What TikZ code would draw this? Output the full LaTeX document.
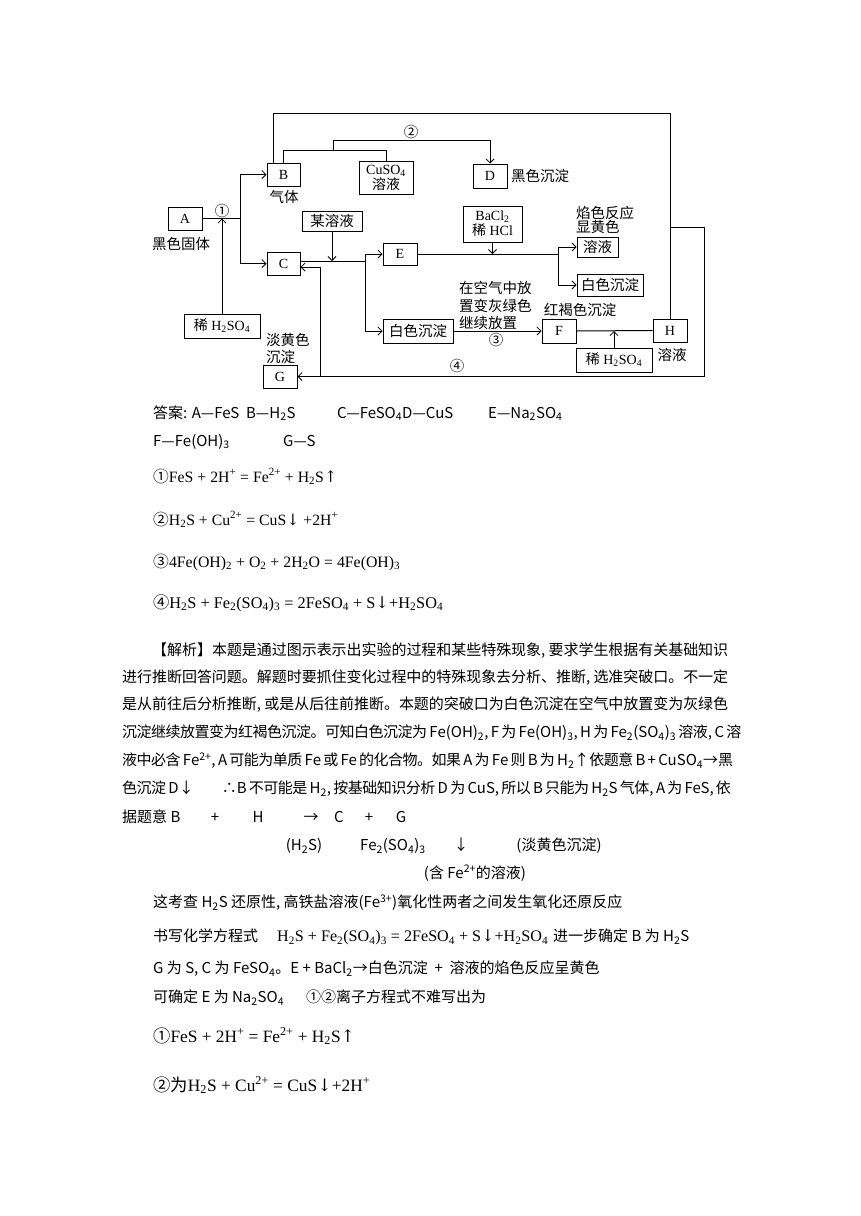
\documentclass[tikz,border=0pt]{standalone}
\usepackage{fontspec}
\usepackage{graphicx}
\usetikzlibrary{arrows.meta,calc}
\setmainfont{Noto Sans CJK SC}
\newfontfamily\cjk{Noto Sans CJK SC}
\newfontfamily\tms{Liberation Serif}
\newfontfamily\dvs{DejaVu Serif}
\XeTeXinterchartokenstate=1
\newXeTeXintercharclass\cjkcls
\newcount\mycnt
\mycnt="4E00
\loop
  \XeTeXcharclass\mycnt=\cjkcls
  \advance\mycnt by 1
\ifnum\mycnt<"A000 \repeat
\mycnt="3000
\loop
  \XeTeXcharclass\mycnt=\cjkcls
  \advance\mycnt by 1
\ifnum\mycnt<"3040 \repeat
\XeTeXinterchartoks\cjkcls\cjkcls={\hskip0pt plus 3pt minus 0.5pt\relax}
\tikzset{
  bx/.style={draw, line width=1pt, inner sep=0pt, minimum height=23pt, minimum width=34pt, font=\tms\fontsize{14}{15}\selectfont},
  bc/.style={bx, font=\cjk\fontsize{14.5}{16}\selectfont},
  lbl/.style={inner sep=0pt, font=\cjk\fontsize{14.5}{16}\selectfont},
  ln/.style={line width=1pt},
  arr/.style={ln, -{Straight Barb[length=4pt,width=8pt,line width=0.8pt]}},
  txt/.style={inner sep=0pt, anchor=base west, font=\fontsize{15}{18}\selectfont},
  ctx/.style={txt, anchor=base},
  eq/.style={inner sep=0pt, anchor=base west, font=\tms\fontsize{16}{18}\selectfont},
}
\begin{document}
\begin{tikzpicture}[x=1pt,y=-1pt]
\fill[white] (0,0) rectangle (860,1216);
\useasboundingbox (0,0) rectangle (860,1216);

% ---------- boxes ----------
\node[bx] (A) at (185,218.5) {A};
\node[bx,minimum width=33pt] (B) at (283.5,174.5) {B};
\node[bx,minimum width=33pt] (C) at (283.5,263.5) {C};
\node[bx,minimum width=54pt,minimum height=33pt,align=center,font=\tms\fontsize{14}{14}\selectfont] (cu) at (386,177.5) {CuSO\textsubscript{4}\\{\cjk 溶液}};
\node[bx,minimum height=24pt] (D) at (490,176) {D};
\node[bc,minimum width=60pt,minimum height=20pt] (mou) at (332,221) {某溶液};
\node[bx,minimum height=22pt] (E) at (400,254) {E};
\node[bx,minimum width=59pt,minimum height=36pt,align=center,font=\tms\fontsize{14}{15}\selectfont] (ba) at (492.5,224) {BaCl\textsubscript{2}\\{\cjk 稀} HCl};
\node[bc,minimum width=41pt,minimum height=20pt] (sol) at (597.5,247) {溶液};
\node[bc,minimum width=66pt,minimum height=22pt] (wr) at (610,285) {白色沉淀};
\node[bc,minimum width=70pt,minimum height=24pt] (wm) at (418,331) {白色沉淀};
\node[bx,minimum height=24pt] (F) at (559,331) {F};
\node[bx] (H) at (670,330.5) {H};
\node[bx,minimum width=76pt,minimum height=24pt] (lh) at (222,326) {{\cjk 稀} H\textsubscript{2}SO\textsubscript{4}};
\node[bx,minimum width=76pt,minimum height=24pt] (rh) at (614,360) {{\cjk 稀} H\textsubscript{2}SO\textsubscript{4}};
\node[bx] (G) at (280,376.5) {G};

% ---------- junction coordinates ----------
\coordinate (j1) at (240,218.5);
\coordinate (ah) at (222,218.5);
\coordinate (y113) at (0,113);
\coordinate (y150) at (0,150);
\coordinate (y140) at (0,140);
\coordinate (bcj) at (333,150);
\coordinate (md) at (332,261);
\coordinate (ce) at (365,261);
\coordinate (ee) at (558,254);
\coordinate (bd) at (492.5,254);
\coordinate (fh) at (614,331);
\coordinate (hj) at (670,227);
\coordinate (rc1) at (704,227);
\coordinate (rc2) at (704,376.5);
\coordinate (gj) at (320,376.5);

% ---------- connectors ----------
\draw[ln] (A.east) -- (j1);
\draw[arr] (j1) |- (B.west);
\draw[arr] (j1) |- (C.west);
\draw[arr] (lh.north) -- (ah);
\draw[ln] ([xshift=7pt]B.north west) |- (y113 -| H.north) -- (H.north);
\draw[ln] (B.north) |- (y150 -| cu.north) -- (cu.north);
\draw[arr] (bcj) |- (y140 -| D.north) -- (D.north);
\draw[arr] (mou.south) -- (md);
\draw[ln] ([yshift=2.5pt]C.east) -- (ce);
\draw[arr] (ce) |- (E.west);
\draw[arr] (ce) |- (wm.west);
\draw[ln] (E.east) -- (ee);
\draw[arr] (ee) |- (sol.west);
\draw[arr] (ee) |- (wr.west);
\draw[arr] (ba.south) -- (bd);
\draw[arr] (wm.east) -- (F.west);
\draw[ln] (F.east) -- (H.west);
\draw[arr] (rh.north) -- (fh);
\draw[arr] (hj) -- (rc1) -- (rc2) -- (G.east);
\draw[arr] (gj) |- ([yshift=-3.5pt]C.east);

% ---------- diagram labels ----------
\node[lbl] (n1) at (222,211) {①};
\node[lbl] (n2) at (411,132) {②};
\node[lbl] (n3) at (496,340) {③};
\node[lbl] (n4) at (457,366) {④};
\node[lbl] (qt) at (284,197) {气体};
\node[lbl] (hsgt) at (181,244) {黑色固体};
\node[lbl,anchor=west] (hscd) at (511,176) {黑色沉淀};
\node[lbl,anchor=west] (ys1) at (576,213) {焰色反应};
\node[lbl,anchor=west] (ys2) at (576,227) {显黄色};
\node[lbl,anchor=west] (kq1) at (459,288) {在空气中放};
\node[lbl,anchor=west] (kq2) at (459,306) {置变灰绿色};
\node[lbl,anchor=west] (kq3) at (459,323) {继续放置};
\node[lbl] (hh) at (580,310) {红褐色沉淀};
\node[lbl] (hsol) at (672,355) {溶液};
\node[lbl,anchor=west] (dh1) at (266,340) {淡黄色};
\node[lbl,anchor=west] (dh2) at (266,357) {沉淀};

% ---------- answers ----------
\node[txt] (a1) at (153,418) {答案: A—FeS\ \ B—H\textsubscript{2}S};
\node[txt] (a2) at (337,418) {C—FeSO\textsubscript{4}D—CuS};
\node[txt] (a3) at (488,418) {E—Na\textsubscript{2}SO\textsubscript{4}};
\node[txt] (a4) at (153,446) {F—Fe(OH)\textsubscript{3}};
\node[txt] (a5) at (283,446) {G—S};

\node[eq] (e1) at (153,482) {\resizebox{184pt}{!}{{\cjk ①}FeS + 2H\textsuperscript{+} = Fe\textsuperscript{2+} + H\textsubscript{2}S{\dvs ↑}}};
\node[eq] (e2) at (153,525) {\resizebox{185pt}{!}{{\cjk ②}H\textsubscript{2}S + Cu\textsuperscript{2+} = CuS{\dvs ↓} +2H\textsuperscript{+}}};
\node[eq] (e3) at (153,567) {\resizebox{247pt}{!}{{\cjk ③}4Fe(OH)\textsubscript{2} + O\textsubscript{2} + 2H\textsubscript{2}O = 4Fe(OH)\textsubscript{3}}};
\node[eq] (e4) at (153,608) {\resizebox{290pt}{!}{{\cjk ④}H\textsubscript{2}S + Fe\textsubscript{2}(SO\textsubscript{4})\textsubscript{3} = 2FeSO\textsubscript{4} + S{\dvs ↓}+H\textsubscript{2}SO\textsubscript{4}}};

% ---------- analysis ----------
\node[txt] (p1) at (152,655.5) {\makebox[576pt][s]{【解析】本题是通过图示表示出实验的过程和某些特殊现象, 要求学生根据有关基础知识}};
\node[txt] (p2) at (122,682.5) {\makebox[606pt][s]{进行推断回答问题。解题时要抓住变化过程中的特殊现象去分析、推断, 选准突破口。不一定}};
\node[txt] (p3) at (122,709.5) {\makebox[606pt][s]{是从前往后分析推断, 或是从后往前推断。本题的突破口为白色沉淀在空气中放置变为灰绿色}};
\node[txt] (p4) at (122,737.5) {\makebox[606pt][s]{沉淀继续放置变为红褐色沉淀。可知白色沉淀为 Fe(OH)\textsubscript{2}, F 为 Fe(OH)\textsubscript{3}, H 为 Fe\textsubscript{2}(SO\textsubscript{4})\textsubscript{3} 溶液, C 溶}};
\node[txt] (p5) at (122,765.5) {\makebox[606pt][s]{液中必含 Fe\textsuperscript{2+}, A 可能为单质 Fe 或 Fe 的化合物。如果 A 为 Fe 则 B 为 H\textsubscript{2}↑依题意 B + CuSO\textsubscript{4}→黑}};
\node[txt] (p6) at (122,793.5) {\makebox[606pt][s]{色沉淀 D↓\hspace{28pt}∴B 不可能是 H\textsubscript{2}, 按基础知识分析 D 为 CuS, 所以 B 只能为 H\textsubscript{2}S 气体, A 为 FeS, 依}};

\node[txt] (q0) at (122,822.5) {据题意 B};
\node[ctx] (q1) at (215,822.5) {+};
\node[ctx] (q2) at (258,822.5) {H};
\node[ctx] (q3) at (311,822.5) {→};
\node[ctx] (q4) at (339,822.5) {C};
\node[ctx] (q5) at (369,822.5) {+};
\node[ctx] (q6) at (401,822.5) {G};
\node[ctx] (r1) at (304,850.5) {(H\textsubscript{2}S)};
\node[ctx] (r2) at (393,850.5) {Fe\textsubscript{2}(SO\textsubscript{4})\textsubscript{3}};
\node[ctx] (r3) at (461,850.5) {↓};
\node[ctx] (r4) at (559,850.5) {(淡黄色沉淀)};
\node[ctx] (s1) at (475,878) {(含 Fe\textsuperscript{2+}的溶液)};

\node[txt] (t1) at (153,907.5) {这考查 H\textsubscript{2}S 还原性, 高铁盐溶液(Fe\textsuperscript{3+})氧化性两者之间发生氧化还原反应};
\node[txt] (t2) at (153,941.5) {书写化学方程式};
\node[eq] (e5) at (277,941.5) {\resizebox{271pt}{!}{H\textsubscript{2}S + Fe\textsubscript{2}(SO\textsubscript{4})\textsubscript{3} = 2FeSO\textsubscript{4} + S{\dvs ↓}+H\textsubscript{2}SO\textsubscript{4}}};
\node[txt] (t3) at (553,941.5) {进一步确定 B 为 H\textsubscript{2}S};
\node[txt] (t4) at (153,973.5) {G 为 S, C 为 FeSO\textsubscript{4}。E + BaCl\textsubscript{2}→白色沉淀\ \ +\ \ 溶液的焰色反应呈黄色};
\node[txt] (t5) at (153,1002.5) {可确定 E 为 Na\textsubscript{2}SO\textsubscript{4}};
\node[txt] (t6) at (306,1002.5) {①②离子方程式不难写出为};
\node[eq] (e6) at (153,1042) {\resizebox{202pt}{!}{{\cjk ①}FeS + 2H\textsuperscript{+} = Fe\textsuperscript{2+} + H\textsubscript{2}S{\dvs ↑}}};
\node[eq] (e7) at (153,1091) {\resizebox{217pt}{!}{{\cjk ②为}H\textsubscript{2}S + Cu\textsuperscript{2+} = CuS{\dvs ↓}+2H\textsuperscript{+}}};
\end{tikzpicture}
\end{document}
